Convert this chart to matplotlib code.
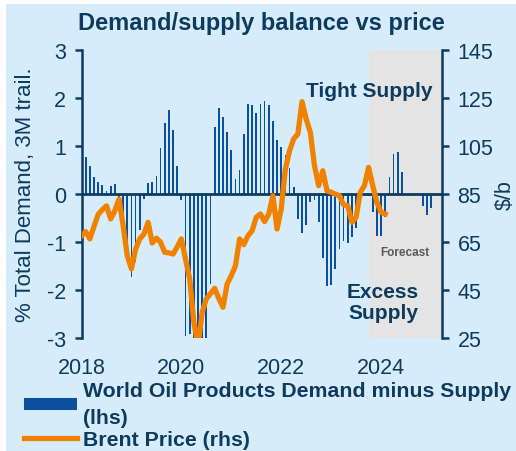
import matplotlib
matplotlib.use("Agg")
import matplotlib.pyplot as plt
from matplotlib.patches import Patch
from matplotlib.lines import Line2D

plt.rcParams['font.family'] = ['Liberation Sans', 'DejaVu Sans']
plt.rcParams['axes.unicode_minus'] = False

# months counted from Jan 2018
bar_months = list(range(1, 85))
balance = [0.77, 0.58, 0.35, 0.26, 0.18, 0.07, 0.17, 0.21, -0.08, -0.55,
           -1.25, -1.72, -1.42, -0.74, -0.10, 0.23, 0.25, 0.37, 0.96, 1.47,
           1.76, 1.33, 0.58, -0.12, -2.95, -2.92, -3.0, -3.05, -3.05, -3.05,
           -1.88, 1.40, 1.79, 1.60, 1.29, 0.92, 0.32, 0.51, 1.25, 1.88,
           1.85, 1.69, 1.88, 1.94, 1.86, 1.53, 1.13, 0.98, 0.82, 0.55,
           0.15, -0.52, -0.81, -0.64, -0.17, -0.13, -0.59, -1.33, -1.92, -1.89,
           -1.56, -1.15, -0.97, -1.03, -0.89, -0.71, -0.05, 0.03, -0.04, -0.38,
           -0.87, -0.87, -0.47, 0.35, 0.84, 0.88, 0.45, -0.01, -0.05, -0.01,
           -0.03, -0.24, -0.43, -0.30]

price_months = list(range(0, 74))
brent = [67.6, 69.3, 66.3, 71.5, 76.5, 78.5, 80.1, 74.6, 78.0, 82.9,
         71.8, 59.3, 53.8, 62.1, 66.3, 68.3, 73.2, 64.6, 66.6, 64.9,
         60.7, 60.5, 60.0, 63.0, 66.3, 57.9, 49.6, 31.5, 22.0, 35.7,
         41.3, 43.5, 45.7, 41.5, 37.8, 47.5, 51.0, 55.1, 66.3, 63.9,
         67.6, 69.7, 75.3, 76.7, 73.5, 76.7, 84.3, 70.4, 78.8, 95.4,
         103.0, 108.0, 110.0, 123.5, 116.3, 110.7, 96.8, 88.5, 94.7, 86.4,
         85.7, 85.0, 84.3, 80.5, 80.1, 73.2, 75.3, 85.7, 88.5, 96.1,
         88.5, 81.5, 77.4, 76.7]

year_ticks = [0, 24, 48, 72]
year_labels = ['2018', '2020', '2022', '2024']
forecast_start = 69.2

navy = '#0d3b5e'
bg = '#d6ecfb'
blue = '#0b4f9e'
orange = '#f08200'

fig = plt.figure(figsize=(5.16, 4.52), dpi=100)
fig.patch.set_facecolor('white')
# light blue panel behind everything
fig.patches.append(plt.Rectangle((6/516, 0), 1, 1 - 5/452, transform=fig.transFigure,
                                 facecolor=bg, edgecolor='none', zorder=-10))

ax = fig.add_axes([0.158, 0.25, 0.699, 0.637])
ax.set_facecolor('none')
ax2 = ax.twinx()

ax.axvspan(forecast_start, 86.7, color='#e4e4e4', zorder=0, lw=0)
ax.bar(bar_months, balance, width=0.42, color=blue, zorder=2)
ax.axhline(0, color=navy, lw=2, zorder=3)
ax.set_xlim(0, 86.7)
ax.set_ylim(-3, 3)

ax2.plot(price_months, brent, color=orange, lw=3.8, zorder=4, solid_joinstyle='round')
ax2.set_ylim(25, 145)
ax2.set_yticks(range(25, 146, 20))

for a in (ax, ax2):
    for s in ('top', 'bottom'):
        a.spines[s].set_visible(False)
    a.spines['left'].set_color(navy)
    a.spines['right'].set_color(navy)
    a.spines['left'].set_linewidth(1.8)
    a.spines['right'].set_linewidth(1.8)
ax.spines['right'].set_visible(False)
ax2.spines['left'].set_visible(False)

ax.set_xticks(year_ticks)
ax.set_xticklabels(year_labels)
ax.tick_params(axis='x', length=0, pad=14, labelsize=15.5, labelcolor=navy)
ax.tick_params(axis='y', length=5, width=1.8, color=navy, labelsize=15.5, labelcolor=navy, pad=6)
ax2.tick_params(axis='y', length=5, width=1.8, color=navy, labelsize=15.5, labelcolor=navy, pad=6)
ax.set_yticks(range(-3, 4))

ax.set_ylabel('% Total Demand, 3M trail.', fontsize=16, color=navy, labelpad=8)
ax2.set_ylabel('$/b', fontsize=15.5, color=navy, labelpad=1)

ax.set_title('Demand/supply balance vs price', fontsize=17, fontweight='bold', color=navy, pad=15)

ax.text(69.2, 2.15, 'Tight Supply', ha='center', va='center', fontsize=15, fontweight='bold', color=navy, zorder=6)
ax.text(72.5, -2.25, 'Excess\nSupply', ha='center', va='center', fontsize=15, fontweight='bold',
        color=navy, linespacing=1.1, zorder=6)
ax.text(77.6, -1.2, 'Forecast', ha='center', va='center', fontsize=8.5, fontweight='bold', color='#595959', zorder=6)

handles = [Patch(facecolor=blue, edgecolor='none'), Line2D([], [], color=orange, lw=3.8)]
labels = ['World Oil Products Demand minus Supply\n(lhs)', 'Brent Price (rhs)']
leg = fig.legend(handles, labels, loc='upper left', bbox_to_anchor=(0.0465, 0.155), frameon=False,
                 prop={'size': 15.3, 'weight': 'bold'}, handlelength=2.5, handleheight=0.55,
                 handletextpad=0.28, labelspacing=0.15, borderpad=0, borderaxespad=0)
for t in leg.get_texts():
    t.set_color(navy)
    t.set_linespacing(1.55)

fig.savefig('out.png', dpi=100)
